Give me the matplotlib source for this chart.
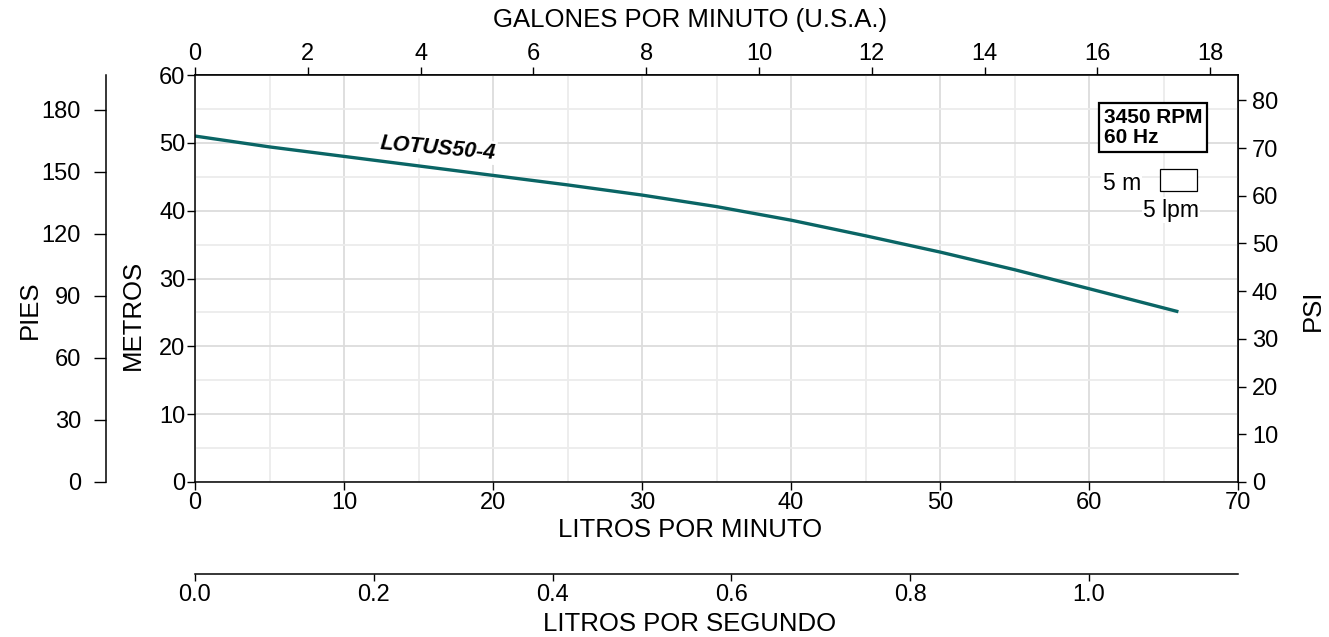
import matplotlib
matplotlib.use("Agg")
import matplotlib.pyplot as plt
from matplotlib.patches import Rectangle
from matplotlib.ticker import MultipleLocator, FormatStrFormatter

plt.rcParams['font.family'] = ['Liberation Sans', 'DejaVu Sans']
plt.rcParams['font.size'] = 17

# curve: flow (l/min) vs head (m)
lpm = [0, 5, 10, 15, 20, 25, 30, 35, 40, 45, 50, 55, 60, 66]
metros = [51.0, 49.4, 48.0, 46.6, 45.2, 43.8, 42.3, 40.6, 38.6, 36.3, 33.9, 31.3, 28.5, 25.1]
modelo = "LOTUS50-4"
velocidad = "3450 RPM\n60 Hz"

LPM_PER_GPM = 3.785
FT_PER_M = 3.2808
PSI_PER_M = 1.4219

W, H = 1329, 637
fig = plt.figure(figsize=(W / 100, H / 100), dpi=100)
x0, x1, y0, y1 = 195, 1238, 75, 482
ax = fig.add_axes([x0 / W, 1 - y1 / H, (x1 - x0) / W, (y1 - y0) / H])

ax.set_xlim(0, 70)
ax.set_ylim(0, 60)
ax.xaxis.set_major_locator(MultipleLocator(10))
ax.xaxis.set_minor_locator(MultipleLocator(5))
ax.yaxis.set_major_locator(MultipleLocator(10))
ax.yaxis.set_minor_locator(MultipleLocator(5))
ax.grid(which='major', color='#dcdcdc', lw=1.3)
ax.grid(which='minor', color='#ececec', lw=1.3)
ax.set_axisbelow(True)
ax.tick_params(which='minor', length=0)
ax.tick_params(which='major', length=6, width=1, direction='out', pad=1)
for s in ax.spines.values():
    s.set_linewidth(1.1)

ax.plot(lpm, metros, color='#0a6565', lw=2.4, solid_capstyle='butt')
ax.text(16.3, 49.2, modelo, rotation=-5, fontsize=15.5, fontweight='bold',
        fontstyle='italic', ha='center', va='center',
        bbox=dict(facecolor='white', edgecolor='none', pad=1))

# top: US gallons per minute
top = ax.secondary_xaxis('top', functions=(lambda q: q / LPM_PER_GPM, lambda g: g * LPM_PER_GPM))
top.xaxis.set_major_locator(MultipleLocator(2))
top.tick_params(length=6, width=1, pad=1)

# right: PSI
der = ax.secondary_yaxis('right', functions=(lambda m: m * PSI_PER_M, lambda p: p / PSI_PER_M))
der.yaxis.set_major_locator(MultipleLocator(10))
der.tick_params(length=6, width=1, pad=4)

# far left: feet
pies = ax.secondary_yaxis((106 - x0) / (x1 - x0), functions=(lambda m: m * FT_PER_M, lambda f: f / FT_PER_M))
pies.yaxis.set_major_locator(MultipleLocator(30))
pies.tick_params(length=9, width=1, pad=9)

# bottom: litres per second
lps = ax.secondary_xaxis((y1 - 574) / (y1 - y0), functions=(lambda q: q / 60, lambda s: s * 60))
lps.xaxis.set_major_locator(MultipleLocator(0.2))
lps.xaxis.set_major_formatter(FormatStrFormatter('%.1f'))
lps.tick_params(length=5, width=1, pad=2)

for sec in (top, der, pies, lps):
    for s in sec.spines.values():
        s.set_linewidth(1.1)

# axis titles
lab = dict(fontsize=18.5, ha='center', va='center')
fig.text(690 / W, 1 - 20 / H, "GALONES POR MINUTO (U.S.A.)", **lab)
fig.text(690 / W, 1 - 530 / H, "LITROS POR MINUTO", **lab)
fig.text(690 / W, 1 - 624 / H, "LITROS POR SEGUNDO", **lab)
fig.text(30 / W, 1 - 310 / H, "PIES", rotation=90, **lab)
fig.text(133 / W, 1 - 315 / H, "METROS", rotation=90, **lab)
fig.text(1313 / W, 1 - 310 / H, "PSI", rotation=90, **lab)

# rpm box and scale marker
ax.text((1104 - x0) / (x1 - x0), (y1 - 108) / (y1 - y0), velocidad, transform=ax.transAxes,
        fontsize=15, fontweight='bold', ha='left', va='top', linespacing=1.08,
        bbox=dict(facecolor='white', edgecolor='black', lw=1.6, pad=3.5))
ax.add_patch(Rectangle(((1160 - x0) / (x1 - x0), (y1 - 191) / (y1 - y0)),
                       37 / (x1 - x0), 22 / (y1 - y0), transform=ax.transAxes,
                       facecolor='white', edgecolor='black', lw=0.9))
ax.text((1141 - x0) / (x1 - x0), (y1 - 184) / (y1 - y0), "5 m", transform=ax.transAxes,
        ha='right', va='center', fontsize=16.5,
        bbox=dict(facecolor='white', edgecolor='none', pad=1))
ax.text((1199 - x0) / (x1 - x0), (y1 - 210) / (y1 - y0), "5 lpm", transform=ax.transAxes,
        ha='right', va='center', fontsize=16.5,
        bbox=dict(facecolor='white', edgecolor='none', pad=1))

fig.savefig("out.png", dpi=100)
